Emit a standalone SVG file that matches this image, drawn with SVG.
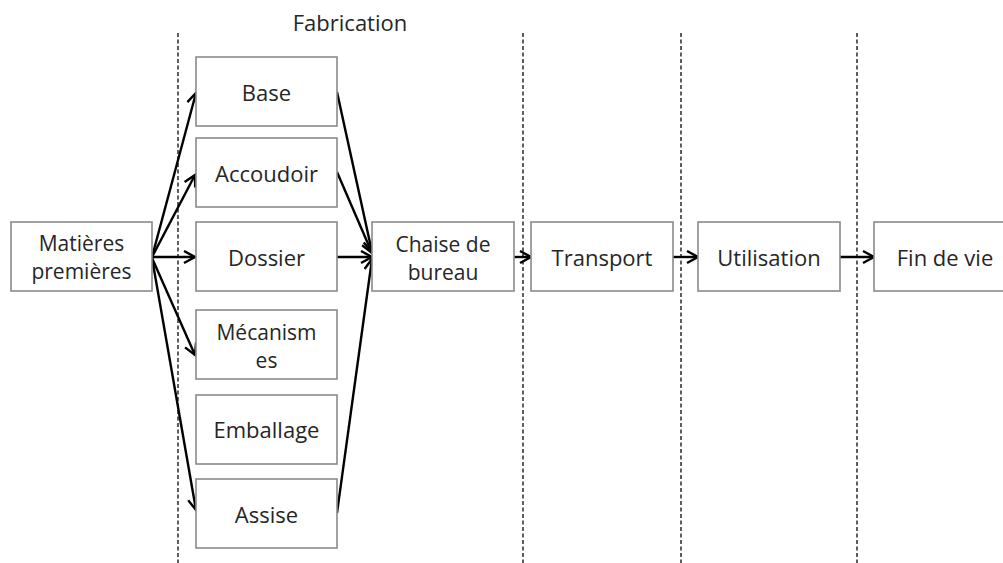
<svg xmlns="http://www.w3.org/2000/svg" width="1003" height="563" viewBox="0 0 1003 563">
  <style>
    .box { fill: #ffffff; stroke: #8a8a8a; stroke-width: 1.6; }
    .lbl { font-family: "Open Sans", "Noto Sans", sans-serif; font-size: 22px; fill: #262626; text-anchor: middle; }
    .ml { font-size: 21px; }
    .sep { stroke: #4d4d4d; stroke-width: 1.8; stroke-dasharray: 4 2.5; fill: none; }
    .con { stroke: #000000; stroke-width: 2.4; fill: none; marker-end: url(#arr); }
  </style>
  <defs>
    <marker id="arr" markerUnits="userSpaceOnUse" markerWidth="16" markerHeight="16" refX="12" refY="7" orient="auto">
      <path d="M1,1 L12,7 L1,13" fill="none" stroke="#000000" stroke-width="2.4"/>
    </marker>
  </defs>
  <rect width="1003" height="563" fill="#ffffff"/>

  <g id="separators">
    <line class="sep" x1="178" y1="33" x2="178" y2="563"/>
    <line class="sep" x1="523" y1="33" x2="523" y2="563"/>
    <line class="sep" x1="681" y1="33" x2="681" y2="563"/>
    <line class="sep" x1="857" y1="33" x2="857" y2="563"/>
  </g>

  <text id="title" class="lbl" x="350" y="31">Fabrication</text>

  <g id="connectors">
    <line class="con" x1="152" y1="257" x2="196" y2="93"/>
    <line class="con" x1="152" y1="257" x2="195" y2="175"/>
    <line class="con" x1="152" y1="257" x2="195" y2="257"/>
    <line class="con" x1="152" y1="258" x2="195" y2="355"/>
    <line class="con" x1="152" y1="258" x2="196" y2="510"/>
    <line class="con" x1="337" y1="92" x2="372" y2="252"/>
    <line class="con" x1="337" y1="172" x2="372" y2="253"/>
    <line class="con" x1="337" y1="257" x2="372" y2="257"/>
    <line class="con" x1="337" y1="513" x2="372" y2="259"/>
    <line class="con" x1="514" y1="257" x2="531" y2="257"/>
    <line class="con" x1="673" y1="257" x2="698" y2="257"/>
    <line class="con" x1="840" y1="257" x2="874" y2="257"/>
  </g>

  <g id="matieres">
    <rect class="box" x="11" y="222" width="141" height="69"/>
    <text class="lbl ml" x="81.5" y="251">Matières</text>
    <text class="lbl ml" x="81.5" y="279">premières</text>
  </g>
  <g id="base">
    <rect class="box" x="196" y="57" width="141" height="69"/>
    <text class="lbl" x="266.5" y="101">Base</text>
  </g>
  <g id="accoudoir">
    <rect class="box" x="196" y="138" width="141" height="69"/>
    <text class="lbl" x="266.5" y="182">Accoudoir</text>
  </g>
  <g id="dossier">
    <rect class="box" x="196" y="222" width="141" height="69"/>
    <text class="lbl" x="266.5" y="266">Dossier</text>
  </g>
  <g id="mecanismes">
    <rect class="box" x="196" y="310" width="141" height="69"/>
    <text class="lbl ml" x="266.5" y="340">Mécanism</text>
    <text class="lbl ml" x="266.5" y="368">es</text>
  </g>
  <g id="emballage">
    <rect class="box" x="196" y="395" width="141" height="69"/>
    <text class="lbl" x="266.5" y="438">Emballage</text>
  </g>
  <g id="assise">
    <rect class="box" x="196" y="479" width="141" height="69"/>
    <text class="lbl" x="266.5" y="523">Assise</text>
  </g>
  <g id="chaise">
    <rect class="box" x="372" y="222" width="142" height="69"/>
    <text class="lbl ml" x="443" y="252">Chaise de</text>
    <text class="lbl ml" x="443" y="280">bureau</text>
  </g>
  <g id="transport">
    <rect class="box" x="531" y="222" width="142" height="69"/>
    <text class="lbl" x="602" y="266">Transport</text>
  </g>
  <g id="utilisation">
    <rect class="box" x="698" y="222" width="142" height="69"/>
    <text class="lbl" x="769" y="266">Utilisation</text>
  </g>
  <g id="findevie">
    <rect class="box" x="874" y="222" width="142" height="69"/>
    <text class="lbl" x="945" y="266">Fin de vie</text>
  </g>
</svg>
